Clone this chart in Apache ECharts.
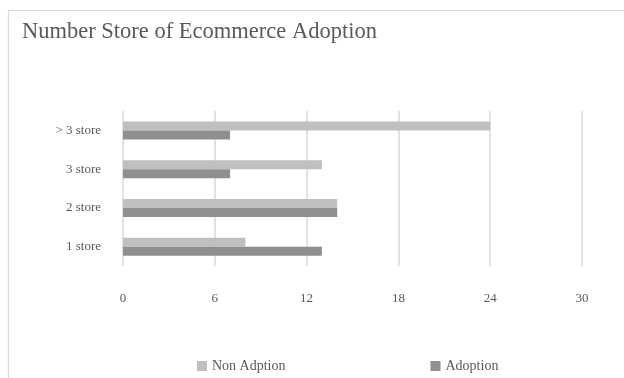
<!DOCTYPE html>
<html><head><meta charset="utf-8">
<script src="https://cdn.jsdelivr.net/npm/echarts@6/dist/echarts.min.js"></script>
<style>html,body{margin:0;padding:0;background:#fff;}#c{width:624px;height:378px;}</style>
</head><body><div id="c"></div>
<script>
const categories = ['1 store', '2 store', '3 store', '> 3 store'];
const nonAdoption = [8, 14, 13, 24];
const adoption = [13, 14, 7, 7];
const seriesNames = ['Non Adption', 'Adoption'];
const chart = echarts.init(document.getElementById('c'));
const font = 'Liberation Serif';
chart.setOption({
  animation: false,
  textStyle: {fontFamily: font},
  graphic: [{type: 'rect', shape: {x: 8.5, y: 10.5, width: 700, height: 500}, style: {fill: 'none', stroke: '#d9d9d9', lineWidth: 1.2}}],
  title: {text: 'Number Store of Ecommerce Adoption', left: 17, top: 16, textStyle: {fontFamily: font, fontSize: 22.5, fontWeight: 'normal', color: '#595959'}},
  legend: {bottom: 0, left: 192, itemGap: 145, itemWidth: 10, itemHeight: 10, icon: 'rect', textStyle: {fontFamily: font, fontSize: 14, color: '#595959'}, data: seriesNames},
  grid: {left: 123, right: 42, top: 111, bottom: 112, containLabel: false},
  xAxis: {type: 'value', min: 0, max: 30, interval: 6, axisLine: {show: false}, axisTick: {show: false},
    axisLabel: {margin: 26, fontFamily: font, fontSize: 13, color: '#595959'},
    splitLine: {lineStyle: {color: '#d9d9d9', width: 1.5}}},
  yAxis: {type: 'category', data: categories, axisLine: {show: false}, axisTick: {show: false},
    axisLabel: {margin: 22, fontFamily: font, fontSize: 13, color: '#595959'}},
  series: [
    {name: seriesNames[0], type: 'bar', data: nonAdoption, itemStyle: {color: '#bfbfbf'}, barWidth: 9, barGap: '0%'},
    {name: seriesNames[1], type: 'bar', data: adoption, itemStyle: {color: '#8f8f8f'}, barWidth: 9, barGap: '0%'}
  ]
});
</script></body></html>
